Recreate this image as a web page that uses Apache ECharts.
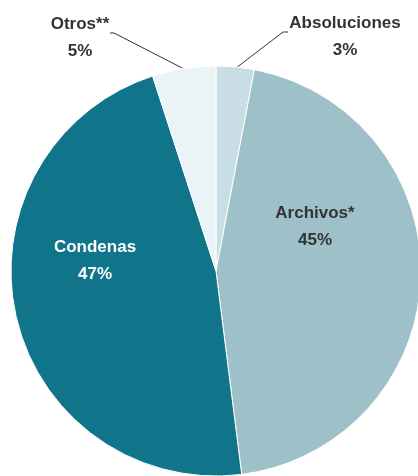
<!DOCTYPE html>
<html><head><meta charset="utf-8">
<script src="https://cdn.jsdelivr.net/npm/echarts@6/dist/echarts.min.js"></script>
<style>html,body{margin:0;padding:0;background:#fff}#c{width:418px;height:476px}</style>
</head><body><div id="c"></div>
<script>
const categories = ['Absoluciones', 'Archivos*', 'Condenas', 'Otros**'];
const values = [3, 45, 47, 5];
const colors = ['#c9dee4', '#9dc0c9', '#10758a', '#eaf3f6'];
const textColors = ['#333333', '#333333', '#ffffff', '#333333'];
// label anchor positions (centre of text block) and leader lines
const labelPos = [[345, 37], [315, 227], [95, 261], [80, 38]];
const leaderLines = [
  [[236, 68], [283, 32], [288, 32]],
  null,
  null,
  [[186, 70], [114, 33], [110, 33]]
];
const font = '"Liberation Sans", Arial, sans-serif';
const chart = echarts.init(document.getElementById('c'));
chart.setOption({
  animation: false,
  series: [{
    type: 'pie',
    center: [216, 271],
    radius: 205,
    startAngle: 90,
    clockwise: true,
    itemStyle: { borderColor: '#ffffff', borderWidth: 1 },
    label: {
      show: true,
      formatter: p => p.name + '\n' + p.value + '%',
      fontFamily: font,
      fontWeight: 'bold',
      fontSize: 17,
      lineHeight: 27,
      align: 'center'
    },
    labelLine: { show: true, length: 10, length2: 5, lineStyle: { color: '#333', width: 1 } },
    labelLayout: function (params) {
      const i = params.dataIndex;
      const r = { x: labelPos[i][0], y: labelPos[i][1], align: 'center', verticalAlign: 'middle' };
      if (leaderLines[i]) r.labelLinePoints = leaderLines[i];
      return r;
    },
    data: categories.map((c, i) => ({
      name: c,
      value: values[i],
      itemStyle: { color: colors[i] },
      label: { color: textColors[i], position: leaderLines[i] ? 'outside' : 'inside' },
      labelLine: { show: !!leaderLines[i] }
    }))
  }]
});
</script></body></html>
